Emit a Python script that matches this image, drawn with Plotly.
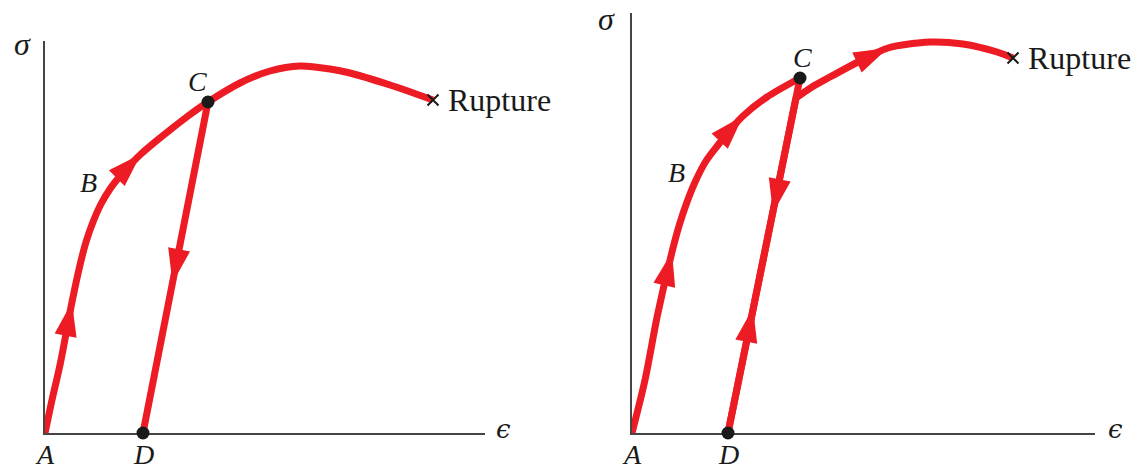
import plotly.graph_objects as go

RED = "#ED1C24"
INK = "#1a1a1a"
AXIS = "#454545"
SERIF = "Liberation Serif"

# ---------------- data (arbitrary strain / stress units) ----------------
# Left panel: loading A -> B -> C -> rupture, unloading C -> D
left_load_strain = [0, 0.07, 0.15, 0.27, 0.35, 0.41, 0.48, 0.56, 0.65, 0.75, 0.85, 0.96,
                    1.10, 1.25, 1.43, 1.63, 1.95, 2.25, 2.55, 2.85, 3.05, 3.45, 3.88]
left_load_stress = [0, 0.33, 0.68, 1.31, 1.68, 1.91, 2.11, 2.29, 2.44, 2.57, 2.68, 2.79,
                    2.91, 3.03, 3.17, 3.31, 3.50, 3.62, 3.67, 3.64, 3.60, 3.48, 3.33]
left_load_arrows = [3, 11]
left_C_index = 15
left_unload_strain = [1.63, 1.275, 0.98]
left_unload_stress = [3.31, 1.50, 0.0]
left_unload_arrows = [1]
left_B_label = (0.43, 2.50)

# Right panel: loading A -> B -> C, unloading C -> D, reloading D -> rupture
right_load_strain = [0, 0.13, 0.255, 0.40, 0.47, 0.55, 0.64, 0.74, 0.86, 0.98, 1.11, 1.35, 1.68]
right_load_stress = [0, 0.53, 1.18, 1.81, 2.07, 2.31, 2.53, 2.72, 2.88, 3.03, 3.17, 3.36, 3.55]
right_load_arrows = [3, 10]
right_unload_strain = [1.68, 1.41, 0.96]
right_unload_stress = [3.55, 2.20, 0.0]
right_unload_arrows = [1]
right_reload_strain = [0.96, 1.21, 1.64, 1.80, 1.98, 2.26, 2.56, 2.98, 3.31, 3.65, 3.81]
right_reload_stress = [0.0, 1.25, 3.35, 3.46, 3.56, 3.71, 3.85, 3.91, 3.89, 3.81, 3.75]
right_reload_arrows = [1, 6]
right_reload_branch = 2   # where the reloading path leaves the straight elastic line
right_B_label = (0.44, 2.61)

left_xrange = [0, 4.40]
left_yrange = [0, 3.92]
right_xrange = [0, 4.63]
right_yrange = [0, 4.20]

W, H = 1137, 470

fig = go.Figure()


def add_curve(xs, ys, ax, ay, shape="spline"):
    fig.add_trace(go.Scatter(x=xs, y=ys, mode="lines", xaxis=ax, yaxis=ay,
                             line=dict(color=RED, width=7, shape=shape, smoothing=0.8),
                             hoverinfo="skip", showlegend=False))


def add_arrows(xs, ys, idx, ax, ay):
    px, py, sz = [], [], []
    for k in idx:
        px += [xs[k - 1], xs[k]]
        py += [ys[k - 1], ys[k]]
        sz += [0, 36]
    fig.add_trace(go.Scatter(x=px, y=py, mode="markers", xaxis=ax, yaxis=ay,
                             marker=dict(symbol="arrow", size=sz, color=RED, opacity=1,
                                         angleref="previous", line=dict(width=0)),
                             cliponaxis=False, hoverinfo="skip", showlegend=False))


def add_dots(xs, ys, ax, ay):
    fig.add_trace(go.Scatter(x=xs, y=ys, mode="markers", xaxis=ax, yaxis=ay,
                             marker=dict(size=13, color=INK, opacity=1),
                             cliponaxis=False, hoverinfo="skip", showlegend=False))


def add_rupture(x, y, ax, ay):
    fig.add_trace(go.Scatter(x=[x], y=[y], mode="markers", xaxis=ax, yaxis=ay,
                             marker=dict(symbol="x-thin", size=11,
                                         line=dict(color=INK, width=2)),
                             cliponaxis=False, hoverinfo="skip", showlegend=False))


# Left panel
add_curve(left_unload_strain, left_unload_stress, "x", "y", "linear")
add_curve(left_load_strain, left_load_stress, "x", "y")
add_arrows(left_load_strain, left_load_stress, left_load_arrows, "x", "y")
add_arrows(left_unload_strain, left_unload_stress, left_unload_arrows, "x", "y")
add_rupture(left_load_strain[-1], left_load_stress[-1], "x", "y")
add_dots([left_load_strain[left_C_index], left_unload_strain[-1]],
         [left_load_stress[left_C_index], left_unload_stress[-1]], "x", "y")

# Right panel
b = right_reload_branch
add_curve(right_load_strain, right_load_stress, "x2", "y2")
add_curve(right_unload_strain, right_unload_stress, "x2", "y2", "linear")
add_curve(right_reload_strain[:b + 1], right_reload_stress[:b + 1], "x2", "y2", "linear")
add_curve(right_reload_strain[b:], right_reload_stress[b:], "x2", "y2")
add_arrows(right_load_strain, right_load_stress, right_load_arrows, "x2", "y2")
add_arrows(right_unload_strain, right_unload_stress, right_unload_arrows, "x2", "y2")
add_arrows(right_reload_strain, right_reload_stress, right_reload_arrows, "x2", "y2")
add_rupture(right_reload_strain[-1], right_reload_stress[-1], "x2", "y2")
add_dots([right_load_strain[-1], right_unload_strain[-1]],
         [right_load_stress[-1], right_unload_stress[-1]], "x2", "y2")

axis_common = dict(showline=True, linecolor=AXIS, linewidth=2, showgrid=False,
                   zeroline=False, showticklabels=False, ticks="", fixedrange=True,
                   layer="below traces")

fig.update_layout(
    width=W, height=H, autosize=False,
    margin=dict(l=0, r=0, t=0, b=0),
    paper_bgcolor="white", plot_bgcolor="white",
    showlegend=False,
    xaxis=dict(domain=[45 / W, 485 / W], range=left_xrange, anchor="y", **axis_common),
    yaxis=dict(domain=[1 - 433 / H, 1 - 41 / H], range=left_yrange, anchor="x", **axis_common),
    xaxis2=dict(domain=[632 / W, 1095 / W], range=right_xrange, anchor="y2", **axis_common),
    yaxis2=dict(domain=[1 - 433 / H, 1 - 13 / H], range=right_yrange, anchor="x2", **axis_common),
)

lab_font = dict(family=SERIF, size=28, color=INK)
ann = []


def panel_labels(xa, ya, C, D, B, rup, sig_pos, eps_pos, c_shift):
    xr = xa
    yr = ya
    xd = xa + " domain"
    yd = ya + " domain"
    ann.append(dict(text="<i>A</i>", x=0, y=0, xref=xr, yref=yd, xanchor="center",
                    yanchor="top", yshift=-4, showarrow=False, font=lab_font))
    ann.append(dict(text="<i>D</i>", x=D[0], y=0, xref=xr, yref=yd, xanchor="center",
                    yanchor="top", yshift=-4, showarrow=False, font=lab_font))
    ann.append(dict(text="<i>C</i>", x=C[0], y=C[1], xref=xr, yref=yr, xanchor="center",
                    yanchor="middle", xshift=c_shift[0], yshift=c_shift[1],
                    showarrow=False, font=lab_font))
    ann.append(dict(text="<i>B</i>", x=B[0], y=B[1], xref=xr, yref=yr, xanchor="center",
                    yanchor="middle", showarrow=False, font=lab_font))
    ann.append(dict(text="Rupture", x=rup[0], y=rup[1], xref=xr, yref=yr, xanchor="left",
                    yanchor="middle", xshift=13, yshift=0, showarrow=False,
                    font=dict(family=SERIF, size=32, color=INK)))
    ann.append(dict(text="<i>σ</i>", x=sig_pos[0], y=sig_pos[1], xref=xd, yref=yd,
                    xanchor="center", yanchor="middle", showarrow=False,
                    font=dict(family=SERIF, size=32, color=INK)))
    ann.append(dict(text="<i>ϵ</i>", x=eps_pos[0], y=eps_pos[1], xref=xd, yref=yd,
                    xanchor="center", yanchor="middle", yshift=4, showarrow=False,
                    font=dict(family="DejaVu Serif", size=26, color=INK)))


panel_labels("x", "y",
             (left_load_strain[left_C_index], left_load_stress[left_C_index]),
             (left_unload_strain[-1], 0), left_B_label,
             (left_load_strain[-1], left_load_stress[-1]),
             (-0.052, 0.992), (1.041, 0.0), (-11, 20))
panel_labels("x2", "y2",
             (right_load_strain[-1], right_load_stress[-1]),
             (right_unload_strain[-1], 0), right_B_label,
             (right_reload_strain[-1], right_reload_stress[-1]),
             (-0.054, 0.9855), (1.045, 0.0), (2, 21))

fig.update_layout(annotations=ann)

fig.write_html("out.html",
               config={"displayModeBar": False, "staticPlot": True},
               post_script="document.body.style.margin='0';document.body.style.overflow='hidden';")
